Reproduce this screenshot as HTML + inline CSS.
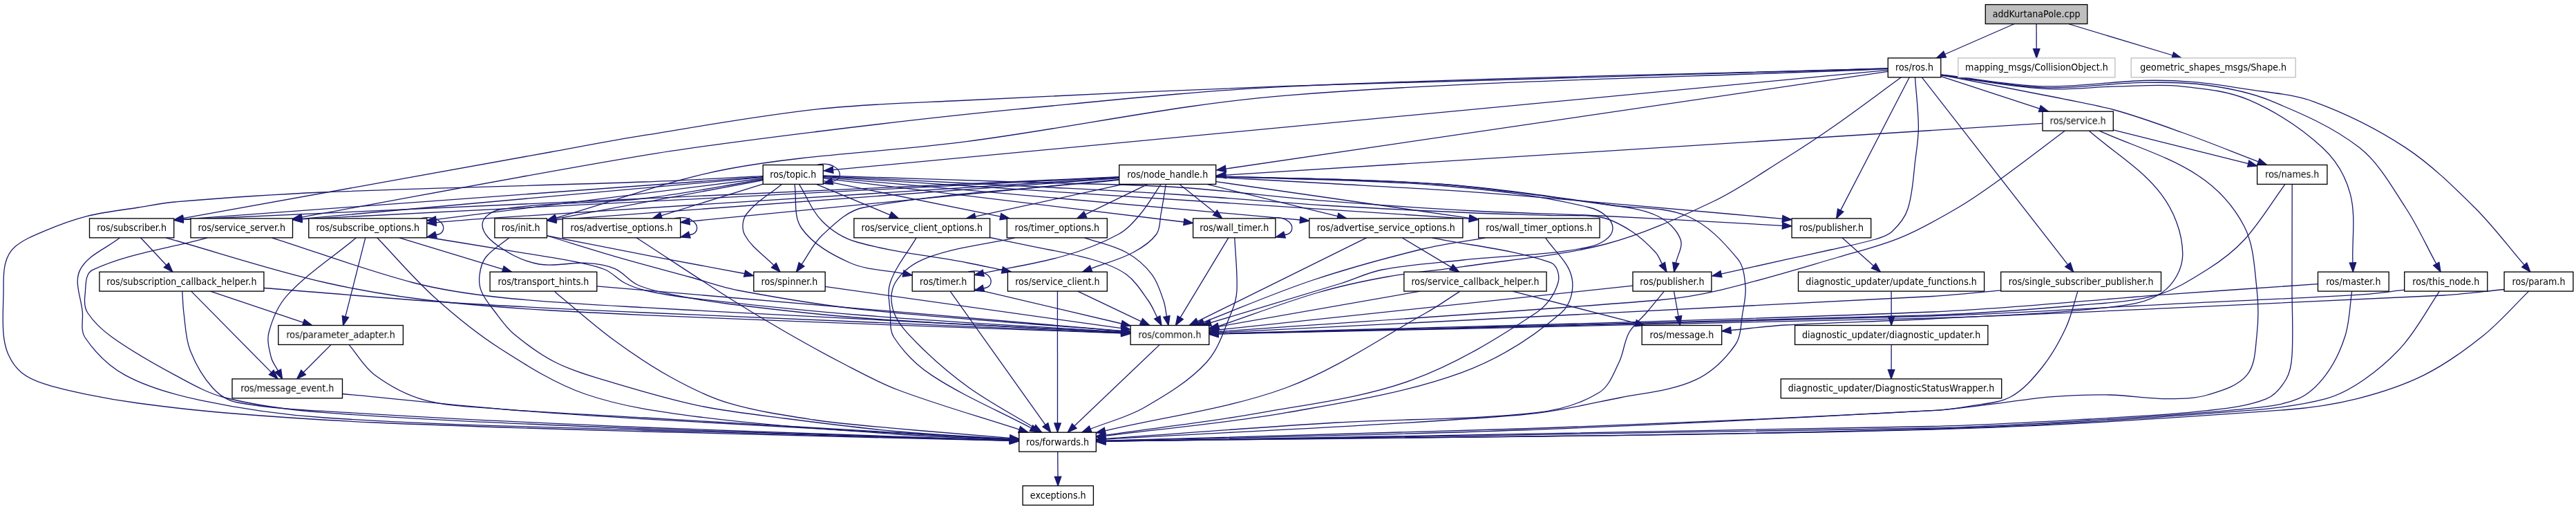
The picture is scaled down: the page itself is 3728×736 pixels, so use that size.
<!DOCTYPE html>
<html><head><meta charset="utf-8"><title>addKurtanaPole.cpp include graph</title>
<style>html,body{margin:0;padding:0;background:#fff}svg{display:block;will-change:transform}text{font-family:"DejaVu Sans","Liberation Sans",sans-serif;font-size:13.4px;fill:#000;text-anchor:middle}.e path{fill:none;stroke:#191970;stroke-width:1.3}.e polygon{fill:#191970;stroke:#191970;stroke-width:1.33}.n rect{fill:#fff;stroke:#000;stroke-width:1.33}.n rect.x{stroke:#bfbfbf}.n rect.m{fill:#bfbfbf}</style></head><body>
<svg width="3728" height="736" viewBox="0 0 3728 736">
<g class="e">
<path d="M2915.2,34.5 C2915.2,34.5 2814.6,78.5 2814.6,78.5"/>
<polygon points="2812.7,74.2 2802.4,83.9 2816.5,82.9"/>
<path d="M2947.1,34.5 C2947.1,34.5 2947.2,70.6 2947.2,70.6"/>
<polygon points="2942.5,70.6 2947.3,83.9 2951.9,70.6"/>
<path d="M2993.3,34.5 C2993.3,34.5 3144.3,80.0 3144.3,80.0"/>
<polygon points="3142.9,84.5 3157.0,83.9 3145.6,75.5"/>
<path d="M2732.3,99.0 C2442.9,107.4 2153.4,114.4 1864.0,124.4 C1708.8,129.8 1553.8,137.4 1398.7,145.0 C1327.4,148.5 1255.9,150.0 1185.0,157.7 C1100.2,166.9 1016.2,182.2 932.0,195.7 C886.5,203.0 841.3,211.8 796.0,220.0 C618.9,251.9 441.9,283.8 264.8,315.7"/>
<polygon points="264.0,311.1 251.7,318.1 265.6,320.4"/>
<path d="M2732.3,99.0 C2442.9,107.7 2153.3,111.7 1864.0,125.2 C1733.9,131.3 1604.3,145.3 1474.7,157.7 C1378.0,166.9 1281.4,178.1 1185.0,190.0 C1100.5,200.4 1016.0,210.7 932.0,224.6 C766.4,252.1 601.7,284.3 436.6,314.1"/>
<polygon points="435.8,309.5 423.5,316.5 437.4,318.8"/>
<path d="M2732.3,99.5 C2442.9,112.3 2152.8,115.0 1864.0,137.8 C1707.8,150.1 1554.1,184.3 1398.7,204.7 C1284.4,219.7 1168.4,222.9 1055.0,244.0 C969.6,259.9 887.9,291.4 804.3,315.2"/>
<polygon points="803.0,310.6 791.5,318.8 805.6,319.7"/>
<path d="M2732.3,101.4 C2732.3,101.4 1205.5,245.7 1205.5,245.7"/>
<polygon points="1205.1,241.1 1192.3,247.0 1206.0,250.4"/>
<path d="M2732.3,103.4 C2732.3,103.4 1773.9,244.1 1773.9,244.1"/>
<polygon points="1773.2,239.4 1760.7,246.0 1774.5,248.7"/>
<path d="M2751.4,111.8 C2718.2,135.9 2685.6,160.6 2652.0,184.0 C2629.1,200.0 2605.7,215.3 2582.0,230.0 C2548.0,251.1 2515.1,274.3 2479.0,291.5 C2428.7,315.4 2377.4,339.0 2323.5,353.0 C2256.1,370.5 2185.9,375.3 2117.0,385.6 C2081.0,391.0 2044.6,393.6 2008.7,400.0 C1974.6,406.1 1940.7,413.3 1907.5,423.0 C1858.8,437.2 1811.4,455.5 1763.4,471.7"/>
<polygon points="1761.9,467.3 1750.8,476.0 1764.9,476.2"/>
<path d="M2763.3,111.8 C2763.3,111.8 2663.7,304.1 2663.7,304.1"/>
<polygon points="2659.6,301.9 2657.6,315.9 2667.9,306.2"/>
<path d="M2771.5,111.8 C2773.1,135.9 2776.3,159.9 2776.4,184.0 C2776.5,199.4 2774.0,214.7 2772.0,230.0 C2768.9,254.1 2768.5,278.9 2761.0,302.0 C2756.9,314.8 2747.8,325.8 2738.0,335.0 C2731.6,341.0 2722.4,343.5 2714.0,346.0 C2693.0,352.2 2671.4,356.1 2650.0,361.0 C2629.2,365.7 2608.4,370.1 2587.6,374.7 C2555.4,381.8 2523.1,389.0 2490.9,396.1"/>
<polygon points="2489.9,391.5 2477.9,399.0 2491.9,400.7"/>
<path d="M2781.4,111.8 C2781.4,111.8 2992.6,382.7 2992.6,382.7"/>
<polygon points="2988.8,385.6 3000.7,393.2 2996.3,379.8"/>
<path d="M2808.8,110.3 C2808.8,110.3 2951.8,157.1 2951.8,157.1"/>
<polygon points="2950.4,161.6 2964.5,161.2 2953.3,152.6"/>
<path d="M2808.8,108.4 C2858.5,118.1 2908.3,127.5 2958.0,137.5 C2992.1,144.4 3026.5,149.9 3060.0,159.0 C3093.2,168.0 3125.5,179.9 3157.8,191.5 C3194.9,204.8 3231.5,219.7 3268.4,233.8"/>
<polygon points="3266.7,238.2 3280.8,238.5 3270.0,229.4"/>
<path d="M2809.5,109.0 C2859.0,115.5 2908.2,125.3 2958.0,128.4 C2994.1,130.6 3030.3,125.5 3066.5,124.8 C3096.7,124.3 3127.0,121.6 3157.0,124.8 C3190.1,128.3 3224.4,131.4 3255.0,144.7 C3293.7,161.5 3330.3,184.9 3361.2,213.6 C3380.2,231.3 3394.7,255.3 3401.3,280.4 C3409.7,312.5 3403.7,346.7 3404.9,379.9"/>
<polygon points="3400.2,380.1 3405.3,393.2 3409.6,379.8"/>
<path d="M2809.5,108.5 C2859.0,114.5 2908.2,124.7 2958.0,126.6 C3006.3,128.4 3054.4,120.1 3102.7,119.4 C3132.8,118.9 3163.2,118.8 3193.0,123.0 C3223.8,127.3 3254.9,133.0 3283.6,144.7 C3329.3,163.4 3375.9,183.1 3414.7,213.6 C3443.4,236.2 3461.3,270.0 3481.5,300.5 C3498.5,326.2 3511.0,354.5 3525.8,381.5"/>
<polygon points="3521.6,383.8 3532.1,393.2 3529.9,379.3"/>
<path d="M2809.5,108.0 C2859.0,113.6 2908.2,123.4 2958.0,124.8 C3006.3,126.2 3054.4,117.9 3102.7,116.5 C3126.8,115.8 3151.0,116.7 3175.0,118.7 C3199.3,120.7 3223.4,124.5 3247.4,128.4 C3281.0,133.9 3315.9,135.2 3347.9,146.8 C3394.7,163.8 3439.9,186.2 3481.5,213.6 C3518.4,237.9 3550.2,269.4 3581.7,300.5 C3607.6,326.1 3629.4,355.6 3653.2,383.2"/>
<polygon points="3649.7,386.2 3661.9,393.2 3656.8,380.1"/>
<path d="M2956.0,178.4 C2956.0,178.4 1774.0,253.2 1774.0,253.2"/>
<polygon points="1773.7,248.5 1760.7,254.0 1774.3,257.9"/>
<path d="M3058.3,187.9 C3058.3,187.9 3253.7,236.6 3253.7,236.6"/>
<polygon points="3252.6,241.2 3266.6,239.9 3254.8,232.1"/>
<path d="M2988.5,189.1 C2956.9,212.7 2925.7,237.0 2893.6,260.0 C2874.2,274.0 2854.7,287.9 2834.0,300.0 C2807.1,315.8 2779.8,331.5 2751.0,343.4 C2721.6,355.6 2690.5,363.1 2660.0,372.0 C2603.5,388.4 2547.2,405.8 2490.0,419.4 C2460.4,426.4 2430.3,431.5 2400.0,434.0 C2187.9,451.5 1975.4,464.3 1763.1,479.5"/>
<polygon points="1762.7,474.8 1749.8,480.4 1763.4,484.2"/>
<path d="M3023.1,189.1 C3057.9,219.5 3099.4,243.6 3127.4,280.4 C3146.1,304.9 3158.5,336.5 3158.8,367.3 C3159.0,388.4 3146.2,410.9 3129.0,423.0 C3106.4,438.9 3076.5,441.6 3049.0,444.7 C2965.0,454.3 2880.4,456.4 2796.0,461.0 C2725.2,464.8 2654.3,466.0 2583.5,470.0 C2557.2,471.5 2531.1,475.1 2504.9,477.6"/>
<polygon points="2504.5,472.9 2491.7,478.9 2505.4,482.3"/>
<path d="M3038.0,189.1 C3085.6,210.6 3137.2,225.0 3180.9,253.7 C3208.5,271.9 3232.4,297.7 3247.7,327.0 C3261.8,354.1 3262.5,386.6 3266.0,417.0 C3268.6,439.7 3268.6,462.8 3266.0,485.5 C3263.8,504.9 3264.2,527.4 3251.7,542.4 C3238.1,558.7 3215.1,564.9 3194.8,571.0 C3176.5,576.5 3156.9,576.6 3137.8,576.6 C3109.3,576.6 3080.9,571.5 3052.4,571.0 C3023.9,570.5 2995.3,571.7 2966.9,573.8 C2944.0,575.5 2921.3,579.6 2898.5,582.3 C2864.4,586.3 2830.3,591.8 2796.0,593.7 C2597.4,604.4 2398.7,612.8 2200.0,620.0 C1999.9,627.3 1799.7,631.5 1599.6,637.2"/>
<polygon points="1599.5,632.5 1586.3,637.6 1599.7,641.9"/>
<path d="M3307.0,266.4 C3287.2,293.3 3270.2,322.4 3247.7,347.0 C3232.2,363.9 3213.4,377.8 3194.0,390.0 C3171.1,404.4 3147.6,419.3 3121.6,426.6 C3086.5,436.5 3049.4,437.8 3013.0,441.0 C2940.8,447.4 2868.5,453.2 2796.0,455.6 C2451.8,467.1 2107.4,473.6 1763.1,482.7"/>
<polygon points="1763.0,478.0 1749.8,483.0 1763.2,487.4"/>
<path d="M3317.2,266.4 C3317.2,316.6 3317.0,366.8 3317.0,417.0 C3317.0,449.3 3319.0,481.7 3317.0,514.0 C3316.3,525.6 3314.6,538.0 3308.7,548.0 C3301.8,559.6 3292.5,571.6 3280.0,576.6 C3253.1,587.4 3223.6,590.4 3194.8,593.7 C3138.1,600.2 3081.0,602.7 3024.0,606.0 C2948.0,610.3 2872.1,614.8 2796.0,616.5 C2397.2,625.4 1998.4,630.8 1599.6,637.9"/>
<polygon points="1599.5,633.2 1586.3,638.2 1599.7,642.6"/>
<path d="M1182.3,238.5 C1186.3,237.0 1195.3,236.7 1200.3,238.0 C1208.3,240.0 1215.3,245.5 1215.3,252.5 C1215.3,257.5 1211.3,261.9 1204.4,262.2"/>
<polygon points="1203.2,257.7 1191.6,265.6 1205.7,266.7"/>
<path d="M1104.2,254.6 C1046.8,257.4 989.4,260.9 932.0,263.0 C777.0,268.7 621.9,271.4 467.0,278.0 C395.6,281.1 324.2,286.1 253.0,292.0 C235.2,293.5 217.6,297.1 200.0,300.0 C175.2,304.0 150.1,306.5 125.8,312.6 C104.3,318.0 83.4,325.9 62.9,334.6 C48.6,340.6 33.8,346.6 22.0,356.6 C14.6,362.9 9.8,372.4 7.5,381.8 C4.0,396.1 5.4,411.1 5.0,425.8 C4.5,444.7 3.4,463.6 5.0,482.4 C5.9,493.1 8.0,504.0 12.6,513.8 C17.0,523.3 23.3,532.4 31.4,539.0 C40.5,546.4 51.8,551.0 62.9,554.7 C83.4,561.5 104.6,566.0 125.8,570.4 C150.4,575.5 175.1,579.7 200.0,583.0 C241.9,588.6 283.9,593.6 326.0,597.0 C398.2,602.9 470.6,607.8 543.0,611.0 C672.6,616.8 802.3,620.3 932.0,624.0 C1108.5,629.1 1285.0,632.9 1461.5,637.4"/>
<polygon points="1461.4,642.1 1474.8,637.8 1461.6,632.7"/>
<path d="M1104.2,255.7 C1104.2,255.7 265.0,317.1 265.0,317.1"/>
<polygon points="264.6,312.4 251.7,318.1 265.3,321.8"/>
<path d="M1104.2,256.4 C1104.2,256.4 436.7,316.4 436.7,316.4"/>
<polygon points="436.3,311.7 423.5,317.6 437.2,321.1"/>
<path d="M1104.2,258.0 C1104.2,258.0 631.0,317.4 631.0,317.4"/>
<polygon points="630.4,312.8 617.8,319.1 631.6,322.1"/>
<path d="M1104.2,260.6 C1104.2,260.6 804.6,316.4 804.6,316.4"/>
<polygon points="803.7,311.7 791.5,318.8 805.4,321.0"/>
<path d="M1104.2,266.1 C1104.2,266.1 957.0,311.9 957.0,311.9"/>
<polygon points="955.6,307.4 944.3,315.9 958.4,316.4"/>
<path d="M1181.4,266.4 C1181.4,266.4 1288.3,310.8 1288.3,310.8"/>
<polygon points="1286.5,315.1 1300.6,315.9 1290.1,306.4"/>
<path d="M1191.3,261.3 C1191.3,261.3 1447.8,313.2 1447.8,313.2"/>
<polygon points="1446.9,317.8 1460.9,315.9 1448.8,308.6"/>
<path d="M1191.3,257.8 C1191.3,257.8 1713.4,321.0 1713.4,321.0"/>
<polygon points="1712.8,325.7 1726.6,322.6 1714.0,316.3"/>
<path d="M1191.3,256.4 C1413.8,276.2 1636.2,296.0 1858.7,315.9 C1866.3,316.6 1873.9,317.3 1881.6,318.0"/>
<polygon points="1881.1,322.7 1894.8,319.3 1882.0,313.4"/>
<path d="M1191.3,255.3 C1191.3,255.3 2126.4,316.4 2126.4,316.4"/>
<polygon points="2126.1,321.1 2139.7,317.3 2126.7,311.8"/>
<path d="M1191.3,253.9 C1294.2,257.3 1397.1,260.6 1500.0,264.0 C1566.7,266.2 1633.4,266.3 1700.0,270.5 C1772.5,275.1 1844.6,284.6 1917.0,290.4 C1989.3,296.1 2061.6,301.1 2134.0,305.0 C2194.3,308.3 2254.7,309.1 2315.0,312.0 C2403.2,316.2 2491.3,321.5 2579.5,326.3"/>
<polygon points="2579.3,331.0 2592.8,327.0 2579.8,321.6"/>
<path d="M1131.3,266.4 C1114.2,281.0 1093.2,291.8 1080.0,310.0 C1074.1,318.1 1073.2,331.2 1078.0,340.0 C1087.6,357.7 1105.9,369.1 1119.9,383.6"/>
<polygon points="1116.5,386.9 1129.1,393.2 1123.3,380.4"/>
<path d="M1150.0,266.4 C1153.3,287.6 1147.6,312.5 1160.0,330.0 C1176.5,353.4 1203.8,368.3 1230.0,380.0 C1254.0,390.7 1281.4,390.3 1307.2,395.5"/>
<polygon points="1306.2,400.1 1320.2,398.1 1308.1,390.9"/>
<path d="M1156.5,266.4 C1167.7,284.3 1175.1,305.1 1190.0,320.0 C1203.7,333.7 1221.3,344.7 1240.0,350.0 C1292.2,364.9 1346.7,369.7 1400.0,380.0 C1416.8,383.2 1433.6,387.0 1450.4,390.5"/>
<polygon points="1449.4,395.1 1463.4,393.2 1451.4,385.9"/>
<path d="M1191.3,254.7 C1294.2,259.8 1397.1,264.7 1500.0,270.0 C1566.7,273.5 1633.4,276.7 1700.0,281.0 C1772.4,285.7 1844.6,292.5 1917.0,297.0 C1989.3,301.5 2061.6,304.8 2134.0,308.0 C2170.3,309.6 2206.7,310.2 2243.0,311.5 C2268.0,312.4 2293.5,309.7 2318.0,314.5 C2333.9,317.6 2348.4,326.2 2362.0,335.0 C2374.7,343.2 2385.7,353.9 2396.0,365.0 C2400.4,369.7 2402.3,376.1 2405.5,381.7"/>
<polygon points="2401.4,384.0 2412.0,393.2 2409.5,379.3"/>
<path d="M1104.2,259.5 C1046.8,268.6 989.8,280.4 932.0,287.0 C862.8,294.9 792.4,291.8 723.6,303.0 C712.5,304.8 698.0,313.7 698.0,325.0 C698.0,338.8 712.3,349.6 723.6,357.5 C740.4,369.2 759.8,378.3 780.0,382.0 C802.6,386.1 825.9,379.0 848.8,380.4 C862.8,381.2 877.1,383.1 890.0,388.6 C902.4,393.9 910.7,406.5 923.0,412.0 C938.6,419.0 955.7,422.3 972.5,425.8 C999.8,431.5 1027.3,436.1 1055.0,439.5 C1119.9,447.5 1184.8,455.3 1250.0,460.0 C1374.1,469.0 1498.5,473.7 1622.8,480.6"/>
<polygon points="1622.6,485.3 1636.1,481.4 1623.1,475.9"/>
<path d="M1619.7,255.7 C1619.7,255.7 265.0,317.5 265.0,317.5"/>
<polygon points="264.8,312.8 251.7,318.1 265.2,322.2"/>
<path d="M1619.7,256.1 C1619.7,256.1 436.8,316.9 436.8,316.9"/>
<polygon points="436.5,312.2 423.5,317.6 437.0,321.6"/>
<path d="M1619.7,257.0 C1314.2,276.6 1008.6,295.9 703.1,315.9 C679.1,317.5 655.1,319.8 631.1,321.8"/>
<polygon points="630.7,317.1 617.8,322.8 631.4,326.5"/>
<path d="M1619.7,257.7 C1619.7,257.7 804.8,317.8 804.8,317.8"/>
<polygon points="804.4,313.1 791.5,318.8 805.1,322.5"/>
<path d="M1619.7,259.3 C1619.7,259.3 997.9,320.2 997.9,320.2"/>
<polygon points="997.5,315.5 984.7,321.5 998.4,324.9"/>
<path d="M1625.6,266.4 C1625.6,266.4 1411.4,313.1 1411.4,313.1"/>
<polygon points="1410.4,308.5 1398.4,315.9 1412.4,317.6"/>
<path d="M1660.9,266.4 C1660.9,266.4 1570.6,310.1 1570.6,310.1"/>
<polygon points="1568.6,305.9 1558.6,315.9 1572.7,314.3"/>
<path d="M1707.1,266.4 C1707.1,266.4 1758.5,307.6 1758.5,307.6"/>
<polygon points="1755.5,311.2 1768.8,315.9 1761.4,303.9"/>
<path d="M1746.7,266.4 C1746.7,266.4 1935.9,312.7 1935.9,312.7"/>
<polygon points="1934.8,317.3 1948.8,315.9 1937.0,308.2"/>
<path d="M1759.7,262.6 C1759.7,262.6 2126.5,315.3 2126.5,315.3"/>
<polygon points="2125.9,320.0 2139.7,317.2 2127.2,310.7"/>
<path d="M1759.7,256.3 C1812.1,259.2 1864.6,262.0 1917.0,265.0 C1989.3,269.1 2061.7,272.7 2134.0,277.8 C2206.4,283.0 2278.7,289.6 2351.0,295.9 C2427.2,302.5 2503.4,309.5 2579.6,316.3"/>
<polygon points="2579.1,321.0 2592.8,317.5 2580.0,311.6"/>
<path d="M1619.7,260.1 C1496.5,273.4 1371.9,277.3 1250.0,300.0 C1226.4,304.4 1207.7,323.8 1190.0,340.0 C1177.2,351.7 1170.0,368.2 1160.0,382.4"/>
<polygon points="1156.2,379.6 1152.4,393.2 1163.9,385.1"/>
<path d="M1680.1,266.4 C1670.0,281.0 1661.4,296.5 1650.0,310.0 C1640.9,320.7 1631.3,331.8 1619.0,338.5 C1594.1,352.1 1567.2,362.2 1540.0,370.0 C1501.8,381.0 1462.1,386.6 1423.2,394.8"/>
<polygon points="1422.2,390.2 1410.2,397.6 1424.2,399.4"/>
<path d="M1687.3,266.4 C1684.9,281.0 1682.7,295.5 1680.0,310.0 C1678.2,319.6 1679.4,330.6 1673.7,338.5 C1665.3,350.1 1652.6,358.3 1640.0,365.0 C1620.7,375.2 1599.4,380.6 1579.0,388.4"/>
<polygon points="1577.4,384.1 1566.6,393.2 1580.7,392.8"/>
<path d="M1759.7,254.9 C1866.8,258.6 1974.1,258.2 2081.0,266.0 C2165.7,272.2 2249.9,284.6 2334.0,297.0 C2356.4,300.3 2379.8,302.9 2400.0,313.0 C2413.7,319.9 2426.6,331.7 2432.0,346.0 C2436.1,356.9 2427.5,368.8 2425.3,380.2"/>
<polygon points="2420.7,379.3 2422.7,393.2 2429.9,381.1"/>
<path d="M1759.7,255.3 C1866.8,259.5 1974.2,259.2 2081.0,268.0 C2154.5,274.1 2228.3,282.4 2300.0,300.0 C2314.7,303.6 2334.0,314.9 2334.0,330.0 C2334.0,344.5 2314.2,354.0 2300.0,357.0 C2240.0,369.7 2178.0,369.3 2117.0,376.0 C2078.0,380.3 2038.6,382.6 2000.0,390.0 C1979.3,394.0 1960.1,403.8 1940.0,410.0 C1877.4,429.3 1814.6,447.8 1751.9,466.7"/>
<polygon points="1750.6,462.2 1739.2,470.5 1753.3,471.2"/>
<path d="M1759.7,254.9 C1866.8,258.6 1974.1,258.2 2081.0,266.0 C2165.7,272.2 2249.7,286.1 2334.0,297.0 C2370.4,301.7 2409.3,298.5 2443.0,313.0 C2472.0,325.5 2494.9,350.3 2515.0,374.7 C2523.6,385.2 2524.8,400.5 2526.0,414.0 C2527.1,426.7 2524.2,439.5 2522.0,452.0 C2519.2,467.8 2520.3,485.9 2511.0,499.0 C2496.2,520.0 2476.4,539.0 2453.0,549.7 C2419.3,565.1 2381.1,567.8 2344.7,575.0 C2296.7,584.5 2248.8,596.1 2200.0,600.0 C2000.2,616.1 1799.7,623.4 1599.6,635.1"/>
<polygon points="1599.3,630.4 1586.3,635.9 1599.9,639.8"/>
<path d="M173.4,343.8 C154.2,359.3 126.8,368.3 115.8,390.4 C106.6,408.8 117.9,431.5 119.4,452.0 C120.3,464.0 116.2,478.0 123.0,488.0 C137.9,509.9 157.7,529.7 181.0,542.4 C214.5,560.6 252.1,570.7 289.4,578.6 C349.0,591.3 409.5,599.9 470.3,604.0 C624.0,614.4 778.1,616.8 932.0,622.0 C1108.5,627.9 1285.0,632.1 1461.5,637.2"/>
<polygon points="1461.4,641.9 1474.8,637.6 1461.6,632.5"/>
<path d="M203.6,343.8 C203.6,343.8 240.8,383.5 240.8,383.5"/>
<polygon points="237.3,386.7 249.9,393.2 244.2,380.3"/>
<path d="M240.2,343.8 C316.9,365.4 392.6,390.8 470.3,408.5 C529.8,422.1 590.3,431.3 651.0,437.5 C744.4,447.0 838.2,451.3 932.0,455.6 C1162.2,466.1 1392.5,473.1 1622.8,481.8"/>
<polygon points="1622.6,486.5 1636.1,482.3 1623.0,477.1"/>
<path d="M300.0,343.8 C244.7,359.3 186.0,366.0 133.9,390.4 C122.5,395.7 124.5,414.1 123.0,426.6 C122.0,435.1 121.9,444.8 126.6,452.0 C135.9,466.3 148.9,478.1 162.8,488.0 C191.5,508.4 222.3,525.8 253.3,542.4 C276.6,554.9 300.0,568.6 325.6,575.0 C372.9,586.8 421.7,593.1 470.3,596.7 C624.0,608.1 778.0,613.7 932.0,620.0 C1108.4,627.2 1285.0,631.3 1461.5,637.0"/>
<polygon points="1461.4,641.7 1474.8,637.4 1461.7,632.3"/>
<path d="M393.6,343.8 C461.4,365.4 528.2,390.5 597.0,408.5 C638.4,419.3 681.0,425.4 723.6,430.0 C792.8,437.5 862.5,440.8 932.0,444.7 C1162.2,457.7 1392.5,468.8 1622.8,480.8"/>
<polygon points="1622.6,485.5 1636.1,481.5 1623.1,476.1"/>
<path d="M608.8,315.9 C612.8,314.4 621.8,314.1 626.8,315.4 C634.8,317.4 641.8,322.8 641.8,329.8 C641.8,334.8 637.8,339.3 630.9,339.5"/>
<polygon points="629.7,335.0 618.1,343.0 632.2,344.1"/>
<path d="M515.5,343.8 C482.4,371.4 445.3,394.9 416.0,426.6 C402.3,441.5 394.1,461.4 389.0,481.0 C386.0,492.7 389.7,505.3 392.5,517.0 C394.2,524.0 399.1,529.7 402.4,536.1"/>
<polygon points="398.2,538.2 408.5,547.9 406.6,533.9"/>
<path d="M528.8,343.8 C528.8,343.8 499.9,457.7 499.9,457.7"/>
<polygon points="495.3,456.5 496.6,470.5 504.5,458.8"/>
<path d="M545.8,343.8 C573.5,372.5 599.2,403.3 628.9,430.0 C658.7,456.8 690.0,482.4 723.8,504.0 C763.2,529.2 803.3,554.8 847.5,570.0 C900.6,588.2 956.9,595.9 1012.5,603.0 C1107.9,615.2 1204.1,621.0 1300.0,628.0 C1353.8,631.9 1407.7,633.2 1461.5,635.8"/>
<polygon points="1461.3,640.5 1474.8,636.5 1461.7,631.1"/>
<path d="M578.1,343.8 C578.1,343.8 727.9,389.3 727.9,389.3"/>
<polygon points="726.5,393.8 740.6,393.2 729.2,384.8"/>
<path d="M618.0,343.0 C672.0,351.8 726.0,360.4 780.0,369.4 C798.4,372.4 816.8,375.1 835.0,379.0 C848.8,382.0 863.0,384.3 876.0,390.0 C886.3,394.5 893.8,403.8 903.8,409.0 C913.3,413.9 923.6,417.6 934.0,420.0 C955.7,425.0 977.8,428.5 1000.0,431.0 C1083.2,440.5 1166.5,449.4 1250.0,456.0 C1374.1,465.8 1498.6,472.0 1622.8,480.0"/>
<polygon points="1622.5,484.7 1636.1,480.8 1623.1,475.3"/>
<path d="M736.9,343.8 C725.6,353.2 712.1,360.5 703.0,372.0 C697.3,379.2 695.1,388.9 694.0,398.0 C693.0,406.0 693.8,414.6 697.0,422.0 C701.6,432.9 709.6,442.1 716.8,451.5 C725.4,462.7 733.5,474.6 744.4,483.6 C763.5,499.3 783.8,514.2 806.0,525.0 C832.3,537.8 860.8,545.4 888.8,553.8 C929.7,566.0 970.7,578.1 1012.5,586.8 C1053.2,595.2 1094.7,599.7 1136.0,605.0 C1190.6,612.1 1245.2,619.0 1300.0,624.0 C1353.7,628.9 1407.7,631.1 1461.5,634.6"/>
<polygon points="1461.2,639.3 1474.8,635.5 1461.8,629.9"/>
<path d="M792.0,341.0 C843.0,350.9 894.0,361.0 945.0,370.8 C989.0,379.2 1033.0,387.3 1077.0,395.5 C1077.2,395.5 1077.4,395.6 1077.6,395.6"/>
<polygon points="1076.5,400.2 1090.5,398.8 1078.7,391.1"/>
<path d="M792.0,341.0 C824.7,350.9 857.2,361.3 890.0,370.8 C926.5,381.3 963.3,390.9 1000.0,401.0 C1022.9,407.3 1045.4,415.6 1068.8,420.0 C1128.9,431.2 1189.2,441.4 1250.0,447.8 C1374.0,460.9 1498.6,468.4 1622.8,478.7"/>
<polygon points="1622.5,483.4 1636.1,479.8 1623.2,474.0"/>
<path d="M975.7,315.9 C979.7,314.4 988.7,314.1 993.7,315.4 C1001.7,317.4 1008.7,322.8 1008.7,329.8 C1008.7,334.8 1004.7,339.3 997.8,339.5"/>
<polygon points="996.6,335.0 985.0,343.0 999.1,344.1"/>
<path d="M921.0,343.8 C965.3,372.5 1009.2,401.8 1053.8,430.0 C1080.8,447.1 1108.3,463.5 1136.0,479.5 C1163.3,495.2 1190.8,510.6 1218.8,525.0 C1245.5,538.8 1271.9,553.5 1300.0,564.0 C1357.5,585.6 1416.7,602.1 1475.1,621.1"/>
<polygon points="1473.7,625.6 1487.8,625.2 1476.6,616.6"/>
<path d="M1326.1,343.8 C1313.5,365.4 1296.6,384.9 1288.4,408.5 C1283.6,422.2 1287.4,437.5 1288.4,452.0 C1289.2,464.1 1287.1,477.9 1293.8,488.0 C1307.9,509.4 1326.6,528.3 1348.0,542.4 C1393.5,572.4 1444.3,593.5 1492.5,619.0"/>
<polygon points="1490.3,623.1 1504.2,625.2 1494.7,614.8"/>
<path d="M1433.0,343.5 C1448.7,346.8 1464.3,350.0 1480.0,353.4 C1513.3,360.5 1547.2,365.5 1580.0,375.0 C1597.5,380.1 1615.3,386.1 1630.0,396.8 C1643.4,406.6 1652.3,421.5 1662.0,435.0 C1667.3,442.3 1670.5,450.9 1674.7,458.9"/>
<polygon points="1670.6,461.1 1681.0,470.6 1678.9,456.7"/>
<path d="M1468.5,343.8 C1426.6,353.3 1383.0,357.3 1342.7,372.4 C1324.2,379.3 1306.0,391.7 1295.7,408.5 C1288.1,420.9 1288.7,438.4 1293.8,452.0 C1300.8,470.5 1316.0,485.0 1330.0,499.0 C1352.4,521.4 1376.6,542.1 1402.3,560.5 C1432.2,581.9 1465.1,599.0 1496.5,618.3"/>
<polygon points="1494.0,622.3 1507.8,625.2 1498.9,614.3"/>
<path d="M1569.5,343.8 C1589.7,350.9 1611.2,354.8 1630.0,365.0 C1644.3,372.8 1657.1,383.9 1667.0,396.8 C1675.5,407.8 1679.4,421.9 1684.0,435.0 C1686.5,442.2 1687.0,450.0 1688.4,457.5"/>
<polygon points="1683.8,458.5 1691.0,470.6 1693.0,456.6"/>
<path d="M1836.9,315.9 C1840.9,314.4 1849.9,314.1 1854.9,315.4 C1862.9,317.4 1869.9,322.8 1869.9,329.8 C1869.9,334.8 1865.9,339.3 1859.0,339.5"/>
<polygon points="1857.8,335.0 1846.2,343.0 1860.3,344.1"/>
<path d="M1777.8,343.8 C1777.8,343.8 1708.2,459.2 1708.2,459.2"/>
<polygon points="1704.2,456.7 1701.4,470.5 1712.3,461.6"/>
<path d="M1786.8,343.8 C1787.9,369.2 1791.1,394.6 1790.0,420.0 C1789.5,431.0 1786.3,441.9 1782.0,452.0 C1771.5,476.7 1764.2,504.2 1746.0,524.0 C1720.8,551.4 1687.9,571.0 1655.6,589.5 C1631.5,603.3 1603.9,610.0 1578.0,620.3"/>
<polygon points="1576.3,615.9 1565.7,625.2 1579.8,624.7"/>
<path d="M1977.6,343.8 C1977.6,343.8 1733.1,464.7 1733.1,464.7"/>
<polygon points="1731.0,460.4 1721.2,470.5 1735.2,468.9"/>
<path d="M2029.1,343.8 C2029.1,343.8 2100.3,386.4 2100.3,386.4"/>
<polygon points="2097.9,390.4 2111.7,393.2 2102.7,382.4"/>
<path d="M2072.6,343.8 C2129.7,355.7 2189.0,360.1 2244.0,379.6 C2253.7,383.0 2257.7,398.6 2254.9,408.5 C2250.1,425.7 2238.5,442.1 2223.6,452.0 C2166.5,490.0 2107.1,526.3 2042.7,549.7 C1973.1,575.0 1898.5,583.6 1825.6,596.7 C1750.6,610.2 1674.8,618.4 1599.5,629.2"/>
<polygon points="1598.8,624.6 1586.3,631.1 1600.1,633.9"/>
<path d="M2149.5,343.8 C2119.4,349.2 2088.8,352.7 2059.0,360.0 C2005.5,373.1 1952.3,387.6 1900.0,405.0 C1846.4,422.9 1794.5,445.5 1741.7,465.8"/>
<polygon points="1740.0,461.4 1729.3,470.5 1743.4,470.2"/>
<path d="M2236.7,343.8 C2249.3,362.9 2269.9,378.6 2274.7,401.0 C2278.4,418.3 2273.2,440.4 2259.8,452.0 C2217.2,488.8 2167.9,519.6 2115.0,538.8 C2033.6,568.4 1947.0,581.6 1861.8,596.7 C1775.0,612.1 1686.9,619.1 1599.5,630.3"/>
<polygon points="1598.9,625.7 1586.3,632.0 1600.1,635.0"/>
<path d="M2666.0,343.8 C2666.0,343.8 2711.5,384.4 2711.5,384.4"/>
<polygon points="2708.4,387.9 2721.4,393.2 2714.6,380.9"/>
<path d="M263.8,421.1 C264.5,431.4 264.6,441.8 265.9,452.0 C268.3,470.1 268.5,489.0 275.0,506.0 C282.6,525.7 293.3,544.8 307.5,560.5 C316.9,570.9 329.9,579.5 343.7,582.0 C397.3,591.8 452.1,593.4 506.5,596.7 C648.2,605.4 790.1,612.1 932.0,618.0 C1108.5,625.4 1285.0,630.5 1461.5,636.7"/>
<polygon points="1461.3,641.4 1474.8,637.2 1461.7,632.0"/>
<path d="M276.7,421.1 C276.7,421.1 392.6,538.4 392.6,538.4"/>
<polygon points="389.3,541.7 402.0,547.9 396.0,535.1"/>
<path d="M304.4,421.1 C304.4,421.1 439.0,466.3 439.0,466.3"/>
<polygon points="437.5,470.8 451.6,470.5 440.5,461.9"/>
<path d="M381.9,416.5 C471.6,423.5 561.2,431.7 651.0,437.5 C744.6,443.5 838.3,447.8 932.0,452.0 C1162.2,462.4 1392.5,471.7 1622.8,481.5"/>
<polygon points="1622.6,486.2 1636.1,482.1 1623.0,476.8"/>
<path d="M802.4,421.1 C805.7,424.1 809.0,427.2 812.5,430.0 C837.8,450.8 862.3,472.7 888.8,492.0 C915.2,511.3 942.3,529.8 971.0,545.5 C997.5,560.1 1024.8,574.0 1053.8,582.6 C1094.1,594.6 1136.0,600.7 1177.6,607.0 C1218.2,613.1 1259.2,616.0 1300.0,619.8 C1353.8,624.8 1407.7,628.8 1461.5,633.4"/>
<polygon points="1461.2,638.1 1474.8,634.5 1461.9,628.7"/>
<path d="M863.8,413.8 C863.8,413.8 1622.8,478.5 1622.8,478.5"/>
<polygon points="1622.4,483.2 1636.1,479.6 1623.2,473.8"/>
<path d="M1194.2,414.4 C1194.2,414.4 1622.9,474.7 1622.9,474.7"/>
<polygon points="1622.3,479.3 1636.1,476.5 1623.6,470.0"/>
<path d="M1401.2,393.2 C1405.2,391.7 1414.2,391.4 1419.2,392.7 C1427.2,394.7 1434.2,400.2 1434.2,407.2 C1434.2,412.2 1430.2,416.6 1423.3,416.9"/>
<polygon points="1422.1,412.3 1410.5,420.3 1424.6,421.4"/>
<path d="M1410.2,417.8 C1410.2,417.8 1623.2,468.0 1623.2,468.0"/>
<polygon points="1622.1,472.6 1636.1,471.1 1624.2,463.5"/>
<path d="M1375.1,421.1 C1375.1,421.1 1512.9,614.4 1512.9,614.4"/>
<polygon points="1509.1,617.1 1520.6,625.2 1516.7,611.7"/>
<path d="M1559.7,421.1 C1559.7,421.1 1651.6,464.8 1651.6,464.8"/>
<polygon points="1649.6,469.1 1663.6,470.5 1653.6,460.6"/>
<path d="M1530.4,421.1 C1530.4,421.1 1530.5,611.9 1530.5,611.9"/>
<polygon points="1525.8,611.9 1530.5,625.2 1535.2,611.9"/>
<path d="M2055.3,421.1 C2055.3,421.1 1762.9,472.3 1762.9,472.3"/>
<polygon points="1762.1,467.6 1749.8,474.6 1763.7,476.9"/>
<path d="M2113.0,421.1 C2096.8,431.4 2081.2,442.7 2064.4,452.0 C1997.4,489.2 1933.7,534.1 1861.8,560.5 C1777.4,591.5 1686.8,602.1 1599.2,622.9"/>
<polygon points="1598.2,618.3 1586.3,625.9 1600.3,627.4"/>
<path d="M2188.9,421.1 C2188.9,421.1 2367.1,467.2 2367.1,467.2"/>
<polygon points="2366.0,471.8 2380.0,470.5 2368.3,462.7"/>
<path d="M2363.0,413.2 C2363.0,413.2 1763.0,477.0 1763.0,477.0"/>
<polygon points="1762.5,472.4 1749.8,478.5 1763.5,481.7"/>
<path d="M2422.5,421.1 C2422.5,421.1 2429.1,457.5 2429.1,457.5"/>
<polygon points="2424.4,458.3 2431.4,470.5 2433.7,456.6"/>
<path d="M2408.4,421.1 C2399.9,431.4 2391.5,441.8 2382.8,452.0 C2374.5,461.8 2363.7,469.8 2357.5,481.0 C2350.2,494.2 2349.8,510.5 2343.0,524.0 C2335.2,539.7 2329.0,558.7 2314.0,567.8 C2287.0,584.3 2255.0,593.1 2223.6,596.7 C2127.6,607.6 2030.5,605.2 1934.0,611.0 C1822.5,617.7 1711.0,626.6 1599.6,634.3"/>
<polygon points="1599.2,629.7 1586.3,635.3 1599.9,639.0"/>
<path d="M2737.1,421.1 C2737.1,421.1 2737.2,457.2 2737.2,457.2"/>
<polygon points="2732.5,457.3 2737.2,470.5 2741.9,457.2"/>
<path d="M2895.7,419.9 C2862.5,422.8 2829.3,426.7 2796.0,428.5 C2451.8,447.1 2107.4,463.5 1763.1,480.9"/>
<polygon points="1762.8,476.2 1749.8,481.6 1763.3,485.6"/>
<path d="M3007.0,421.1 C3001.3,438.7 2997.6,457.2 2989.7,474.0 C2980.3,494.1 2969.3,513.7 2955.5,531.0 C2942.5,547.2 2928.3,563.8 2910.0,573.7 C2892.9,583.0 2872.2,583.4 2853.0,586.8 C2834.1,590.1 2815.1,592.7 2796.0,593.7 C2597.4,604.4 2398.8,614.7 2200.0,622.0 C1999.9,629.3 1799.7,632.3 1599.6,637.4"/>
<polygon points="1599.5,632.7 1586.3,637.7 1599.7,642.1"/>
<path d="M3354.5,410.7 C3282.3,415.7 3210.0,420.4 3137.8,425.6 C3023.8,433.8 2910.2,446.3 2796.0,451.0 C2451.8,465.2 2107.4,471.9 1763.1,482.4"/>
<polygon points="1763.0,477.7 1749.8,482.8 1763.2,487.1"/>
<path d="M3403.7,421.1 C3400.5,442.6 3400.5,464.8 3394.0,485.5 C3387.7,505.7 3378.4,525.4 3365.7,542.4 C3355.2,556.4 3341.9,569.8 3325.8,576.6 C3302.7,586.4 3276.7,588.2 3251.7,590.8 C3176.0,598.7 3100.0,603.3 3024.0,608.0 C2948.1,612.7 2872.1,617.4 2796.0,619.0 C2397.2,627.4 1998.4,631.7 1599.6,638.1"/>
<polygon points="1599.5,633.4 1586.3,638.3 1599.7,642.8"/>
<path d="M3479.7,419.2 C3460.7,421.3 3441.7,424.4 3422.6,425.6 C3327.7,431.4 3232.7,435.1 3137.8,439.9 C3023.9,445.6 2910.0,453.4 2796.0,457.0 C2451.8,467.7 2107.4,474.2 1763.1,482.7"/>
<polygon points="1763.0,478.1 1749.8,483.1 1763.2,487.4"/>
<path d="M3530.4,421.1 C3513.5,446.3 3499.3,473.6 3479.6,496.8 C3463.1,516.3 3443.5,533.3 3422.6,548.0 C3405.2,560.2 3386.2,571.1 3365.7,576.6 C3328.6,586.5 3290.0,590.7 3251.7,593.7 C3100.0,605.4 2948.1,616.4 2796.0,620.5 C2397.3,631.2 1998.4,632.3 1599.6,638.1"/>
<polygon points="1599.5,633.4 1586.3,638.3 1599.7,642.8"/>
<path d="M3624.1,418.5 C3594.9,421.3 3565.9,425.4 3536.6,427.0 C3403.7,434.4 3270.7,439.7 3137.8,445.6 C3023.9,450.6 2910.0,456.7 2796.0,459.8 C2451.7,469.1 2107.4,475.2 1763.1,482.9"/>
<polygon points="1763.0,478.2 1749.8,483.2 1763.2,487.6"/>
<path d="M3659.7,421.1 C3637.6,442.6 3617.5,466.3 3593.5,485.5 C3566.8,506.9 3538.6,527.1 3508.0,542.4 C3477.3,557.7 3444.2,568.2 3411.0,576.6 C3377.5,585.0 3343.1,590.0 3308.7,592.5 C3138.0,604.8 2967.1,616.4 2796.0,621.0 C2397.3,631.7 1998.4,632.4 1599.6,638.2"/>
<polygon points="1599.5,633.5 1586.3,638.4 1599.7,642.9"/>
<path d="M479.1,498.4 C479.1,498.4 439.1,538.5 439.1,538.5"/>
<polygon points="435.8,535.2 429.7,547.9 442.4,541.8"/>
<path d="M505.0,498.4 C517.6,513.1 527.1,531.0 542.7,542.4 C564.5,558.3 589.0,571.6 615.0,578.6 C650.2,588.1 687.3,588.4 723.6,591.3 C793.0,596.9 862.5,599.9 932.0,604.0 C1108.5,614.5 1285.0,624.7 1461.5,635.1"/>
<polygon points="1461.2,639.8 1474.8,635.9 1461.8,630.4"/>
<path d="M495.5,569.5 C571.5,576.7 647.5,585.0 723.6,591.3 C793.0,597.1 862.5,601.7 932.0,605.8 C1108.5,616.3 1285.0,625.5 1461.5,635.3"/>
<polygon points="1461.3,640.0 1474.8,636.1 1461.8,630.6"/>
<path d="M1678.3,498.4 C1678.3,498.4 1554.8,616.0 1554.8,616.0"/>
<polygon points="1551.6,612.6 1545.2,625.2 1558.1,619.4"/>
<path d="M2737.2,498.4 C2737.2,498.4 2737.1,534.6 2737.1,534.6"/>
<polygon points="2732.4,534.6 2737.0,547.9 2741.8,534.6"/>
<path d="M1530.7,653.1 C1530.7,653.1 1531.0,689.2 1531.0,689.2"/>
<polygon points="1526.3,689.3 1531.1,702.5 1535.7,689.2"/>
</g><g class="n">
<rect class="m" x="2873.3" y="6.6" width="147.5" height="27.9"/>
<text transform="translate(2947.1,24.8) scale(.948,1)">addKurtanaPole.cpp</text>
<rect x="2732.3" y="83.9" width="76.5" height="27.9"/>
<text transform="translate(2770.6,102.1) scale(.948,1)">ros/ros.h</text>
<rect class="x" x="2833.8" y="83.9" width="227.1" height="27.9"/>
<text transform="translate(2947.4,102.1) scale(.948,1)">mapping_msgs/CollisionObject.h</text>
<rect class="x" x="3084.2" y="83.9" width="238.0" height="27.9"/>
<text transform="translate(3203.2,102.1) scale(.948,1)">geometric_shapes_msgs/Shape.h</text>
<rect x="2956.0" y="161.2" width="102.3" height="27.9"/>
<text transform="translate(3007.2,179.5) scale(.948,1)">ros/service.h</text>
<rect x="1104.2" y="238.5" width="87.1" height="27.9"/>
<text transform="translate(1147.8,256.8) scale(.948,1)">ros/topic.h</text>
<rect x="1619.7" y="238.5" width="140.0" height="27.9"/>
<text transform="translate(1689.7,256.8) scale(.948,1)">ros/node_handle.h</text>
<rect x="3266.6" y="238.5" width="101.3" height="27.9"/>
<text transform="translate(3317.2,256.8) scale(.948,1)">ros/names.h</text>
<rect x="129.5" y="315.9" width="122.2" height="27.9"/>
<text transform="translate(190.6,334.1) scale(.948,1)">ros/subscriber.h</text>
<rect x="276.0" y="315.9" width="147.5" height="27.9"/>
<text transform="translate(349.8,334.1) scale(.948,1)">ros/service_server.h</text>
<rect x="446.8" y="315.9" width="171.0" height="27.9"/>
<text transform="translate(532.3,334.1) scale(.948,1)">ros/subscribe_options.h</text>
<rect x="715.9" y="315.9" width="75.6" height="27.9"/>
<text transform="translate(753.7,334.1) scale(.948,1)">ros/init.h</text>
<rect x="814.3" y="315.9" width="170.4" height="27.9"/>
<text transform="translate(899.5,334.1) scale(.948,1)">ros/advertise_options.h</text>
<rect x="1235.9" y="315.9" width="196.7" height="27.9"/>
<text transform="translate(1334.2,334.1) scale(.948,1)">ros/service_client_options.h</text>
<rect x="1457.3" y="315.9" width="145.0" height="27.9"/>
<text transform="translate(1529.8,334.1) scale(.948,1)">ros/timer_options.h</text>
<rect x="1726.6" y="315.9" width="119.3" height="27.9"/>
<text transform="translate(1786.2,334.1) scale(.948,1)">ros/wall_timer.h</text>
<rect x="1894.8" y="315.9" width="222.1" height="27.9"/>
<text transform="translate(2005.8,334.1) scale(.948,1)">ros/advertise_service_options.h</text>
<rect x="2139.7" y="315.9" width="175.4" height="27.9"/>
<text transform="translate(2227.4,334.1) scale(.948,1)">ros/wall_timer_options.h</text>
<rect x="2593.1" y="315.9" width="114.6" height="27.9"/>
<text transform="translate(2650.4,334.1) scale(.948,1)">ros/publisher.h</text>
<rect x="143.9" y="393.2" width="238.0" height="27.9"/>
<text transform="translate(262.9,411.5) scale(.948,1)">ros/subscription_callback_helper.h</text>
<rect x="709.1" y="393.2" width="154.7" height="27.9"/>
<text transform="translate(786.4,411.5) scale(.948,1)">ros/transport_hints.h</text>
<rect x="1090.8" y="393.2" width="103.4" height="27.9"/>
<text transform="translate(1142.5,411.5) scale(.948,1)">ros/spinner.h</text>
<rect x="1320.2" y="393.2" width="90.0" height="27.9"/>
<text transform="translate(1365.2,411.5) scale(.948,1)">ros/timer.h</text>
<rect x="1458.4" y="393.2" width="143.9" height="27.9"/>
<text transform="translate(1530.3,411.5) scale(.948,1)">ros/service_client.h</text>
<rect x="2031.9" y="393.2" width="206.2" height="27.9"/>
<text transform="translate(2135.0,411.5) scale(.948,1)">ros/service_callback_helper.h</text>
<rect x="2363.0" y="393.2" width="113.9" height="27.9"/>
<text transform="translate(2419.9,411.5) scale(.948,1)">ros/publisher.h</text>
<rect x="2602.5" y="393.2" width="269.1" height="27.9"/>
<text transform="translate(2737.1,411.5) scale(.948,1)">diagnostic_updater/update_functions.h</text>
<rect x="2895.7" y="393.2" width="231.8" height="27.9"/>
<text transform="translate(3011.6,411.5) scale(.948,1)">ros/single_subscriber_publisher.h</text>
<rect x="3354.5" y="393.2" width="102.7" height="27.9"/>
<text transform="translate(3405.8,411.5) scale(.948,1)">ros/master.h</text>
<rect x="3479.7" y="393.2" width="120.1" height="27.9"/>
<text transform="translate(3539.8,411.5) scale(.948,1)">ros/this_node.h</text>
<rect x="3624.1" y="393.2" width="99.8" height="27.9"/>
<text transform="translate(3674.0,411.5) scale(.948,1)">ros/param.h</text>
<rect x="402.8" y="470.5" width="180.6" height="27.9"/>
<text transform="translate(493.1,488.8) scale(.948,1)">ros/parameter_adapter.h</text>
<rect x="1636.1" y="470.5" width="113.7" height="27.9"/>
<text transform="translate(1692.9,488.8) scale(.948,1)">ros/common.h</text>
<rect x="2376.2" y="470.5" width="115.5" height="27.9"/>
<text transform="translate(2433.9,488.8) scale(.948,1)">ros/message.h</text>
<rect x="2597.6" y="470.5" width="279.3" height="27.9"/>
<text transform="translate(2737.2,488.8) scale(.948,1)">diagnostic_updater/diagnostic_updater.h</text>
<rect x="336.0" y="547.9" width="159.5" height="27.9"/>
<text transform="translate(415.8,566.1) scale(.948,1)">ros/message_event.h</text>
<rect x="2577.3" y="547.9" width="319.4" height="27.9"/>
<text transform="translate(2737.0,566.1) scale(.948,1)">diagnostic_updater/DiagnosticStatusWrapper.h</text>
<rect x="1474.8" y="625.2" width="111.5" height="27.9"/>
<text transform="translate(1530.5,643.5) scale(.948,1)">ros/forwards.h</text>
<rect x="1480.1" y="702.5" width="102.3" height="27.9"/>
<text transform="translate(1531.2,720.8) scale(.948,1)">exceptions.h</text>
</g></svg></body></html>
